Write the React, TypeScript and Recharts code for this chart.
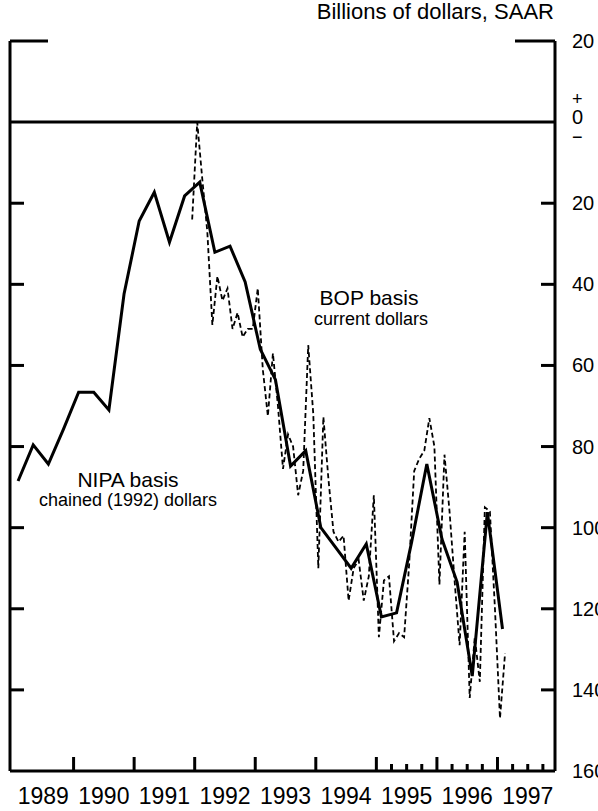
import React from 'react';
import { ComposedChart, Line, XAxis, YAxis, ReferenceLine } from 'recharts';

// NIPA basis, chained (1992) dollars — quarterly net exports deficit (billions, SAAR), 1989Q1..1997Q1
const nipaStartYear = 1989;
const nipaDeficit = [
  88.5, 79.6, 84.3, 75.7,
  66.6, 66.6, 71.0, 42.4,
  24.4, 17.3, 29.6, 18.2,
  14.8, 32.1, 30.6, 39.4,
  56, 63.5, 84.8, 81,
  100, 105, 110, 104,
  122, 121, 103.5, 84.3,
  102.8, 113.4, 136.6, 96.2,
  125,
];

// BOP basis, current dollars — monthly deficit, Dec 1991 .. Feb 1997
const bopStart = { year: 1991, month: 12 };
const bopDeficit = [
  24,
  0, 14, 27, 50, 38, 44, 41, 51, 47, 53, 51, 51,
  41, 61, 72.5, 57, 70, 85.5, 77, 80, 92, 86, 55, 72,
  110, 72.7, 88, 101, 103.5, 102, 118, 110, 108, 118, 112, 92,
  127, 113, 112, 128, 126, 127, 109, 86, 83, 81, 73, 80,
  114, 82, 96, 113, 129, 101, 142, 127, 138, 95, 96, 120,
  147, 131,
];

const yearLabels = ['1989', '1990', '1991', '1992', '1993', '1994', '1995', '1996', '1997'];
const yearBoundaries = [1990, 1991, 1992, 1993, 1994, 1995, 1996, 1997];
const quarterTickYears = [1995, 1996, 1997];
const leftTickValues = [20, -20, -40, -60, -80, -100, -120, -140];
const rightTickValues = [20, 0, -20, -40, -60, -80, -100, -120, -140, -160];

const nipaData = nipaDeficit.map((v, i) => ({
  t: nipaStartYear + Math.floor(i / 4) + (i % 4) / 4 + 1 / 12,
  nipa: -v,
}));

const bopData = bopDeficit.map((v, i) => {
  const m = bopStart.month - 1 + i;
  const year = bopStart.year + Math.floor(m / 12);
  const month = (m % 12) + 1;
  return { t: year + (month - 0.5) / 12, bop: -v };
});

const FONT = '"Liberation Sans", Arial, Helvetica, sans-serif';

const xTicks = [
  ...yearLabels.map((y) => Number(y) + 0.5),
  ...yearBoundaries,
  ...quarterTickYears.flatMap((y) => [y + 0.25, y + 0.75]),
].sort((a, b) => a - b);

const XTick = (props: any) => {
  const { x, y, payload } = props;
  const v: number = payload.value;
  const frac = Math.round((v - Math.floor(v)) * 100) / 100;
  const yr = Math.floor(v);
  const els: any[] = [];
  if (frac === 0) {
    els.push(<line key="l" x1={x} x2={x} y1={y} y2={y - 14} stroke="#000" strokeWidth={3} />);
  } else {
    if (quarterTickYears.includes(yr)) {
      els.push(<line key="q" x1={x} x2={x} y1={y} y2={y - 7} stroke="#000" strokeWidth={3} />);
    }
    if (frac === 0.5) {
      els.push(
        <text key="t" x={x} y={y + 33} textAnchor="middle" fontSize={23} fontFamily={FONT} fill="#000">
          {String(yr)}
        </text>
      );
    }
  }
  return <g>{els}</g>;
};

const LeftTick = (props: any) => {
  const { x, y, payload } = props;
  const len = payload.value === 20 ? 38 : 14;
  return <line x1={x} x2={x + len} y1={y} y2={y} stroke="#000" strokeWidth={3} />;
};

const RightTick = (props: any) => {
  const { x, y, payload } = props;
  const v: number = payload.value;
  const els: any[] = [];
  if (v !== 0 && v !== -160) {
    const len = v === 20 ? 40 : 14;
    els.push(<line key="l" x1={x - len} x2={x} y1={y} y2={y} stroke="#000" strokeWidth={3} />);
  }
  if (v === 0) {
    els.push(
      <text key="p" x={x + 17} y={y - 17} fontSize={18} fontFamily={FONT} fill="#000">+</text>,
      <text key="z" x={x + 17} y={y + 2} fontSize={20} fontFamily={FONT} fill="#000">0</text>,
      <text key="m" x={x + 17} y={y + 21} fontSize={18} fontFamily={FONT} fill="#000">−</text>
    );
  } else {
    els.push(
      <text key="t" x={x + 17} y={y + 7} fontSize={20} fontFamily={FONT} fill="#000">
        {String(Math.abs(v))}
      </text>
    );
  }
  return <g>{els}</g>;
};

export default function App() {
  return (
    <div style={{ position: 'absolute', left: 0, top: 0, width: 598, height: 811, overflow: 'hidden', background: '#fff' }}>
      <ComposedChart width={598} height={811} margin={{ top: 41, right: 42, bottom: 39, left: 9 }}>
        <XAxis
          type="number"
          dataKey="t"
          domain={[1988.95, 1997.95]}
          allowDataOverflow
          ticks={xTicks}
          interval={0}
          tick={<XTick />}
          tickLine={false}
          tickSize={0}
          tickMargin={0}
          height={1}
          axisLine={{ stroke: '#000', strokeWidth: 3 }}
        />
        <YAxis
          yAxisId="left"
          orientation="left"
          type="number"
          domain={[-160, 20]}
          allowDataOverflow
          ticks={leftTickValues}
          interval={0}
          tick={<LeftTick />}
          tickLine={false}
          tickSize={0}
          tickMargin={0}
          width={1}
          axisLine={{ stroke: '#000', strokeWidth: 3 }}
        />
        <YAxis
          yAxisId="right"
          orientation="right"
          type="number"
          domain={[-160, 20]}
          allowDataOverflow
          ticks={rightTickValues}
          interval={0}
          tick={<RightTick />}
          tickLine={false}
          tickSize={0}
          tickMargin={0}
          width={1}
          axisLine={{ stroke: '#000', strokeWidth: 3 }}
        />
        <ReferenceLine yAxisId="left" y={0} stroke="#000" strokeWidth={3} />
        <Line
          yAxisId="left"
          data={bopData}
          dataKey="bop"
          type="linear"
          stroke="#000"
          strokeWidth={1.8}
          strokeDasharray="5 3"
          dot={false}
          isAnimationActive={false}
        />
        <Line
          yAxisId="left"
          data={nipaData}
          dataKey="nipa"
          type="linear"
          stroke="#000"
          strokeWidth={3}
          dot={false}
          isAnimationActive={false}
        />
        <text x={554} y={19} textAnchor="end" fontSize={22} fontFamily={FONT} fill="#000">
          Billions of dollars, SAAR
        </text>
        <text x={369} y={305} textAnchor="middle" fontSize={21} fontFamily={FONT} fill="#000">
          BOP basis
        </text>
        <text x={371} y={325} textAnchor="middle" fontSize={18} fontFamily={FONT} fill="#000">
          current dollars
        </text>
        <text x={128} y={487} textAnchor="middle" fontSize={21} fontFamily={FONT} fill="#000">
          NIPA basis
        </text>
        <text x={128} y={506} textAnchor="middle" fontSize={18} fontFamily={FONT} fill="#000">
          chained (1992) dollars
        </text>
      </ComposedChart>
    </div>
  );
}
